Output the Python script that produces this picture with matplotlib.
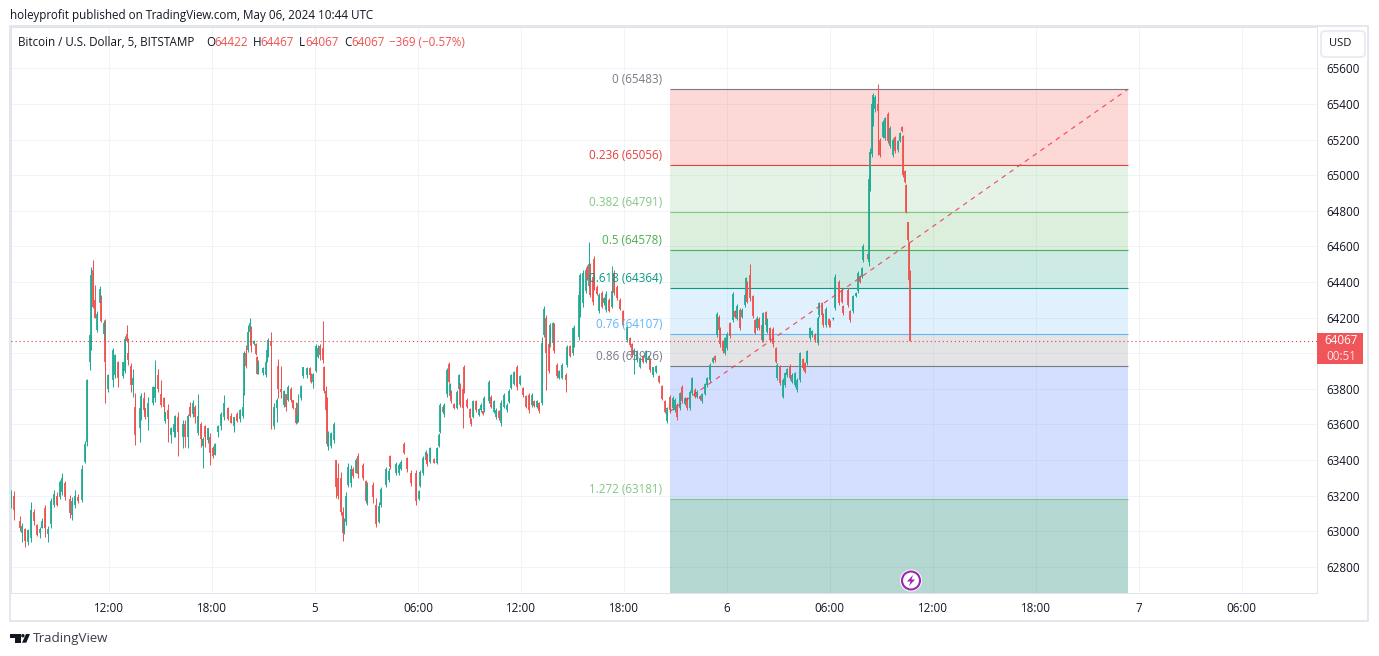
import matplotlib
matplotlib.use("Agg")
import matplotlib.pyplot as plt
from matplotlib.patches import Rectangle, FancyBboxPatch, Polygon, Circle
from matplotlib.transforms import Affine2D

# ---- candles, section A (May 4 morning to May 5 early) ----
a_bar = [0,2,6,8,10,12,14,16,18,20,22,24,26,28,30,32,34,36,38,41,43,45,47,50,52,53,55,56,57,59,60,62,63,65,66,68,71,73,75,78,
         80,81,82,84,85,87,90,91,93,94,96,99,101,103,105,107,108,110,112,114,115,117,120,122,124,125,127,129,131,133,134,136,138,139,141,143,145,147,149,152,
         154,156,158,160,162,163,164,166,167,168,170,171,172,173,176,178,179,180,182,184,186,187,189,191,192,194,196,197,199,200,201,203,204,207,209,210,211,213,215,216,
         218,219,220,221,222,224,226,227,229]
a_open = [63150,63200,63060,62990,63010,62940,62960,63110,63035,62990,63020,63130,62985,63040,63150,63200,63190,63220,63270,63180,63090,63150,63195,63175,63390,63500,63950,64040,64470,64300,64130,64280,64300,64110,64080,63800,63850,63880,63950,63870,
          63900,64110,64000,63930,63820,63700,63580,63640,63750,63690,63640,63720,63750,63880,63770,63750,63620,63680,63540,63560,63600,63640,63530,63600,63530,63700,63660,63700,63550,63600,63480,63590,63510,63530,63470,63430,63560,63590,63640,63695,
          63650,63590,63660,63630,63650,63770,64000,64020,64120,64140,64050,64050,63980,63890,63890,63880,63950,64020,64070,63590,63690,63930,63800,63710,63770,63740,63800,63735,63690,63620,63620,63750,63870,63880,63915,63880,63840,63900,63980,64040,
          64030,63920,63790,63680,63480,63480,63510,63400,63300]
a_high = [63232,63226,63085,63045,63016,63010,63166,63124,63041,63026,63073,63148,63030,63185,63232,63223,63288,63326,63283,63204,63195,63232,63208,63373,63507,63856,64113,64487,64524,64384,64238,64378,64328,64187,64191,63884,64030,63996,63957,63953,
          64097,64159,64088,63944,63910,63775,63710,63775,63781,63691,63757,63816,63962,63910,63850,63757,63672,63715,63588,63607,63653,63672,63625,63625,63659,63728,63737,63710,63771,63616,63532,63597,63579,63550,63479,63498,63597,63672,63766,63700,
          63663,63644,63672,63687,63775,64013,64047,64159,64200,64154,64075,64056,63985,63962,63921,63962,64024,64084,64120,63719,63747,63966,63929,63794,63766,63822,63813,63738,63728,63663,63771,63822,63921,63921,63921,63888,63891,64051,64047,64051,
          64182,63929,63816,63757,63564,63560,63611,63401,63382]
a_low = [63129,63063,63000,62940,62914,62923,62942,63035,62974,62960,63017,62970,62942,63017,63138,63142,63180,63204,63176,63073,63064,63129,63157,63167,63382,63480,63906,64020,64253,64197,64122,64280,64178,64075,63719,63785,63813,63860,63813,63860,
         63891,64066,63934,63785,63757,63485,63503,63625,63663,63629,63569,63710,63728,63785,63700,63644,63607,63504,63494,63532,63532,63425,63466,63476,63466,63644,63644,63607,63541,63476,63354,63476,63494,63373,63414,63429,63532,63569,63625,63625,
         63607,63560,63616,63616,63635,63766,63916,64009,64066,64009,64047,63991,63884,63884,63878,63869,63953,63981,63575,63575,63616,63747,63747,63700,63676,63734,63728,63687,63603,63607,63616,63738,63860,63860,63869,63835,63803,63897,63972,63960,
         63944,63775,63672,63479,63457,63466,63494,63189,63180]
a_close = [63200,63120,63020,63030,62945,63005,63120,63060,62980,63015,63060,63020,63015,63170,63210,63150,63275,63300,63190,63100,63170,63200,63170,63350,63490,63850,64100,64440,64260,64200,64220,64360,64180,64170,63950,63880,64020,63990,63860,63950,
           64080,64070,63960,63820,63860,63540,63690,63760,63680,63640,63720,63810,63810,63800,63710,63700,63670,63630,63580,63600,63650,63560,63600,63530,63650,63650,63720,63640,63650,63520,63520,63530,63580,63440,63420,63490,63590,63660,63720,63630,
           63610,63640,63620,63680,63700,64000,63930,64120,64170,64040,64070,63995,63885,63950,63915,63950,64020,64075,64040,63700,63740,63800,63780,63790,63700,63810,63740,63690,63610,63650,63720,63815,63920,63915,63880,63840,63885,64040,64030,63990,
           63960,63790,63680,63490,63560,63550,63600,63250,63200]

# ---- candles, section B (May 5 to May 6 early) ----
b_bar = [231,232,233,234,236,238,239,241,243,246,248,249,253,255,257,259,262,264,265,269,271,273,275,277,280,283,285,286,288,290,291,293,296,298,299,300,302,303,305,306,
         307,308,310,312,313,314,316,317,319,321,322,323,325,327,329,330,331,334,336,338,339,341,343,345,347,348,350,352,354,356,358,360,362,364,366,368,369,371,373,374,
         376,377,379,380,382,383,385,388,389,391,393,394,397,398,400,402,403,404,405,407,408,410,411,413,415,416,418,420,422,424,426,428,431,433,434,436,438,440,442,444,
         446,447,449,451,453,455,457]
b_open = [63300,63110,63000,63050,63260,63270,63350,63330,63420,63370,63280,63170,63260,63150,63050,63150,63260,63290,63420,63330,63330,63350,63490,63410,63330,63330,63180,63255,63330,63400,63430,63390,63405,63385,63480,63560,63700,63660,63770,63940,
          63760,63785,63715,63695,63800,63820,63800,63920,63740,63685,63630,63640,63730,63655,63680,63675,63680,63730,63755,63670,63640,63675,63610,63700,63680,63725,63805,63830,63920,63830,63805,63760,63765,63710,63730,63700,63720,63720,64100,64200,
          64050,64045,64055,64160,63935,63860,63860,63880,63935,64040,64000,64050,64090,64220,64280,64350,64480,64380,64490,64430,64530,64375,64235,64340,64280,64245,64300,64260,64450,64375,64300,64235,64075,64085,64050,63990,63960,63925,63985,63950,
          63960,63965,63875,63895,63870,63815,63730]
b_high = [63335,63138,63073,63223,63382,63373,63363,63410,63438,63382,63288,63279,63279,63185,63166,63251,63363,63354,63429,63391,63382,63401,63504,63419,63344,63344,63232,63344,63423,63457,63438,63476,63410,63476,63550,63719,63710,63719,63916,63949,
          63831,63794,63719,63794,63884,63831,63813,63934,63747,63691,63635,63738,63738,63691,63719,63682,63762,63850,63766,63738,63691,63682,63738,63775,63719,63798,63884,63903,63934,63878,63813,63766,63775,63775,63738,63738,63728,64090,64266,64215,
          64066,64169,64178,64169,63944,63906,63944,63888,64047,64047,64150,64159,64347,64453,64468,64487,64496,64626,64506,64450,64549,64384,64337,64347,64318,64347,64309,64491,64468,64384,64309,64243,64159,64094,64056,64028,64019,63981,63991,64019,
          63991,63972,63925,63934,63878,63822,63738]
b_low = [63091,62947,62985,63035,63251,63251,63298,63326,63298,63288,63157,63148,63157,63022,63045,63138,63251,63279,63348,63316,63316,63344,63434,63335,63254,63148,63176,63247,63316,63391,63367,63382,63382,63376,63476,63550,63663,63644,63757,63831,
         63747,63719,63687,63687,63794,63700,63579,63775,63691,63625,63592,63635,63672,63648,63672,63653,63672,63719,63691,63663,63631,63625,63592,63691,63672,63719,63798,63822,63794,63822,63757,63691,63663,63700,63700,63691,63663,63710,64094,63794,
         63888,64037,64047,64000,63860,63854,63854,63785,63925,63977,63991,64037,64075,64206,64262,64337,64412,64365,64318,64272,64356,64328,64225,64253,64272,64234,64234,64253,64328,64300,64243,64150,64066,64037,63981,63884,63953,63916,63944,63944,
         63953,63897,63869,63888,63835,63738,63663]
b_close = [63110,62990,63060,63200,63360,63350,63310,63400,63320,63300,63170,63260,63190,63040,63140,63240,63350,63340,63360,63380,63370,63390,63440,63350,63270,63170,63225,63335,63410,63445,63375,63465,63385,63465,63540,63710,63670,63710,63905,63840,
           63825,63730,63695,63785,63875,63710,63690,63790,63700,63635,63600,63730,63680,63685,63710,63660,63750,63840,63700,63730,63680,63635,63720,63765,63710,63790,63875,63895,63810,63870,63765,63700,63680,63765,63705,63730,63675,64060,64250,64000,
           63900,64160,64170,64010,63870,63900,63935,63850,64035,63985,64140,64100,64330,64440,64450,64470,64420,64500,64330,64290,64370,64335,64330,64260,64310,64335,64240,64350,64340,64310,64250,64160,64150,64045,63990,64020,64010,63975,63950,64010,
           63985,63905,63920,63930,63840,63745,63670]

# ---- candles, section C (May 6) ----
c_bar = [459,461,463,464,466,468,469,471,473,475,476,478,480,482,483,485,487,489,491,492,494,495,496,498,499,501,503,505,506,508,510,511,513,514,515,517,519,520,522,523,
         525,526,528,529,531,533,535,536,538,540,541,543,545,546,548,550,552,554,555,557,559,560,562,564,565,567,568,570,572,573,575,576,579,581,582,585,587,589,591,592,
         594,595,596,599,600,601,602,603,604,606,608,610,611,613,615,617,618,620,622,623,624,625,626,627,628,629]
c_open = [63620,63755,63690,63680,63710,63690,63810,63715,63750,63690,63775,63795,63755,63760,63730,63770,63820,63850,63950,63985,64100,64205,64140,64070,64000,64030,64170,64185,64235,64195,64245,64205,64270,64330,64395,64440,64320,64185,64140,64195,
          64160,64075,64230,64120,64140,64135,64030,63860,63925,63755,63820,63875,63930,63840,63820,63795,63850,63965,63945,63945,64085,64100,64105,64060,64215,64280,64215,64160,64190,64180,64190,64255,64400,64355,64265,64355,64235,64235,64322,64350,
          64432,64430,64525,64560,64510,64925,65120,65290,65370,65400,65200,65215,65210,65345,65165,65115,65215,65140,65195,65270,65220,65025,64945,64735,64620,64422]
c_high = [63700,63766,63760,63747,63719,63785,63822,63756,63756,63794,63869,63803,63794,63766,63775,63831,63869,63944,63981,63991,64234,64215,64150,64075,64094,64122,64178,64346,64243,64277,64253,64253,64337,64431,64406,64500,64328,64191,64210,64202,
          64169,64234,64240,64197,64150,64146,64037,63944,63934,63860,63897,63916,63940,63888,63897,63860,64009,63972,63953,64019,64150,64131,64112,64210,64290,64290,64225,64262,64197,64187,64206,64444,64412,64365,64272,64365,64243,64328,64346,64463,
          64440,64487,64614,64566,64993,65152,65414,65461,65452,65513,65208,65311,65330,65356,65274,65208,65223,65199,65245,65277,65227,65030,64951,64740,64627,64467]
c_low = [63607,63663,63682,63672,63625,63682,63719,63710,63682,63682,63766,63747,63747,63738,63723,63766,63813,63841,63948,63953,64094,64122,64037,64000,63991,64019,64084,64178,64197,64187,64131,64197,64262,64318,64281,64296,64197,64107,64131,64131,
         64065,64065,64150,64112,64065,64037,63944,63850,63822,63747,63813,63869,63850,63831,63813,63785,63841,63906,63888,63934,64075,64094,64065,64047,64206,64206,64150,64150,64150,64146,64187,64243,64272,64281,64215,64262,64178,64225,64318,64341,
         64393,64421,64515,64524,64493,64914,65105,65274,65358,65114,65105,65208,65199,65184,65152,65105,65124,65133,65189,65245,64993,64955,64790,64627,64403,64067]
c_close = [63690,63680,63750,63735,63640,63775,63730,63750,63690,63785,63860,63755,63785,63745,63770,63825,63860,63935,63975,63960,64220,64130,64050,64010,64085,64110,64095,64335,64205,64265,64140,64245,64330,64420,64290,64310,64210,64115,64200,64140,
           64075,64225,64160,64190,64075,64050,63950,63935,63835,63850,63890,63910,63860,63880,63890,63850,64000,63915,63895,64010,64140,64125,64075,64200,64280,64215,64160,64250,64160,64150,64200,64430,64285,64290,64225,64270,64185,64320,64340,64450,
           64400,64480,64605,64530,64980,65130,65400,65450,65440,65360,65115,65300,65320,65195,65265,65200,65135,65190,65240,65250,65000,64960,64795,64635,64410,64067]

# ---- Fibonacci retracement ----
fib_ratio = ["0", "0.236", "0.382", "0.5", "0.618", "0.76", "0.86", "1.272"]
fib_price = [65483, 65056, 64791, 64578, 64364, 64107, 63926, 63181]
fib_color = ["#787b86", "#e5403b", "#81c784", "#4caf50", "#089981", "#64b5f6", "#787b86", "#81c784"]
fib_fill = ["#f44336", "#81c784", "#4caf50", "#089981", "#64b5f6", "#787b86", "#2962ff", "#087d68"]
fib_start_bar, fib_end_bar = 460.6, 781.0
trend_start_price, trend_end_price = 63672, 65483

# ---- axes ----
price_ticks = list(range(62800, 65601, 200))
price_tick_labels = ["" if p == 64000 else str(p) for p in price_ticks]  # 64000 sits under the last-price tag
time_tick_bars = [68.6, 140.6, 212.6, 284.6, 356.6, 428.6, 500.6, 572.6, 644.6, 716.6, 788.6, 860.6]
time_tick_labels = ["12:00", "18:00", "5", "06:00", "12:00", "18:00", "6", "06:00", "12:00", "18:00", "7", "06:00"]
last_price = 64067

W, H_ = 1379, 656
UP, DOWN = "#22ab94", "#ef5350"
TXT = "#131722"
FONT = "Open Sans"
FS = 8.4
plt.rcParams["font.family"] = FONT

fig = plt.figure(figsize=(W / 100, H_ / 100), dpi=100, facecolor="white")
PX = Affine2D().scale(1 / W, -1 / H_).translate(0, 1) + fig.transFigure

ax = fig.add_axes([11 / W, 1 - 593 / H_, (1317 - 11) / W, (593 - 27) / H_])
ax.set_xlim(0, 913.3)
ax.set_ylim(62653, 65833)
for s in ax.spines.values():
    s.set_color("#e0e3eb")
    s.set_linewidth(0.72)
ax.set_yticks(price_ticks)
ax.set_yticklabels(price_tick_labels)
ax.set_xticks(time_tick_bars)
ax.set_xticklabels(time_tick_labels)
ax.yaxis.tick_right()
ax.tick_params(axis="both", length=0, labelsize=FS, labelcolor=TXT)
ax.tick_params(axis="y", pad=6.4)
ax.tick_params(axis="x", pad=6.8)
ax.grid(True, color="#f0f3fa", linewidth=0.72, zorder=0)
ax.set_axisbelow(True)

# Fibonacci fills and levels
lower = fib_price[1:] + [ax.get_ylim()[0]]
for top, bot, col in zip(fib_price, lower, fib_fill):
    alpha = 0.3 if col == "#087d68" else 0.2
    ax.fill_between([fib_start_bar, fib_end_bar], bot, top, color=col, alpha=alpha, linewidth=0, zorder=1)
ax.hlines(fib_price, fib_start_bar, fib_end_bar, colors=fib_color, linewidth=0.8, zorder=2)

# candles
bars = a_bar + b_bar + c_bar
opens = a_open + b_open + c_open
highs = a_high + b_high + c_high
lows = a_low + b_low + c_low
closes = a_close + b_close + c_close
cols = [UP if c >= o else DOWN for o, c in zip(opens, closes)]
ax.vlines(bars, lows, highs, colors=cols, linewidth=0.72, zorder=3)
ax.vlines(bars, [min(o, c) for o, c in zip(opens, closes)], [max(o, c) for o, c in zip(opens, closes)],
          colors=cols, linewidth=1.3, zorder=3)

# trend line and last price line
ax.plot([fib_start_bar, fib_end_bar], [trend_start_price, trend_end_price], color="#f23645", alpha=0.85,
        linewidth=0.85, dashes=(4, 4), zorder=4)
ax.axhline(last_price, color="#d9534f", linewidth=0.85, dashes=(1, 2.4), zorder=4)

# Fibonacci labels
for r, p, c in zip(fib_ratio, fib_price, fib_color):
    ax.annotate(f"{r} ({p})", xy=(fib_start_bar, p), xytext=(-5.4, 7.2), textcoords="offset points",
                ha="right", va="center", fontsize=FS, color=c, zorder=6)

# frame
fig.add_artist(Rectangle((10, 26), 1358, 595, transform=PX, fill=False, edgecolor="#e4e7ee", linewidth=1.4))

# header and legend
fig.text(10, 15, "holeyprofit published on TradingView.com, May 06, 2024 10:44 UTC", transform=PX,
         fontsize=FS, color=TXT, va="center")
legend_items = [(18, "Bitcoin / U.S. Dollar, 5, BITSTAMP", TXT), (206, "O", TXT), (214, "64422", DOWN),
                (253, "H", TXT), (260, "64467", DOWN), (299, "L", TXT), (305, "64067", DOWN),
                (344, "C", TXT), (351, "64067", DOWN), (389, "\u2212369 (\u22120.57%)", DOWN)]
for x, s, c in legend_items:
    fig.text(x, 42, s, transform=PX, fontsize=FS, color=c, va="center")

# USD button
fig.add_artist(FancyBboxPatch((1321, 31), 44, 26, boxstyle="round,pad=0,rounding_size=4", mutation_scale=1,
                              transform=PX, facecolor="white", edgecolor="#e8eaf0", linewidth=1.3))
fig.text(1340, 44, "USD", transform=PX, fontsize=FS - 0.3, color=TXT, ha="center", va="center")

# last price tag
fig.add_artist(Rectangle((1317, 333), 46, 31, transform=PX, facecolor="#f0555a", edgecolor="none", zorder=5))
fig.text(1341, 341, f"{last_price}", transform=PX, fontsize=FS, color="white", ha="center", va="center", zorder=6)
fig.text(1341, 356, "00:51", transform=PX, fontsize=FS, color="#ffe3e3", ha="center", va="center", zorder=6)

# lightning badge
fig.add_artist(Circle((911, 580.5), 11, transform=PX, facecolor="white", edgecolor="none", zorder=6))
fig.add_artist(Circle((911, 580.5), 9, transform=PX, facecolor="white", edgecolor="#9c27b0", linewidth=1.5, zorder=6))
fig.add_artist(Polygon([(913, 575), (907, 581.5), (910.5, 581.5), (909, 586), (915, 579.5), (911.5, 579.5)],
                       closed=True, transform=PX, facecolor="#9c27b0", edgecolor="none", zorder=7))

# TradingView logo
logo = "#131722"
fig.add_artist(Polygon([(10, 634), (20.6, 634), (20.6, 642.7), (14.8, 642.7), (14.8, 637.6), (10, 637.6)],
                       closed=True, transform=PX, facecolor=logo, edgecolor="none"))
fig.add_artist(Circle((22.9, 635.7), 1.7, transform=PX, facecolor=logo, edgecolor="none"))
fig.add_artist(Polygon([(26, 634), (30, 634), (26.3, 642.7), (22, 642.7)], closed=True, transform=PX,
                       facecolor=logo, edgecolor="none"))
fig.text(33, 638.5, "TradingView", transform=PX, fontsize=9.6, color="#3a3e4a", va="center")

fig.savefig("out.png", dpi=100, facecolor="white")
